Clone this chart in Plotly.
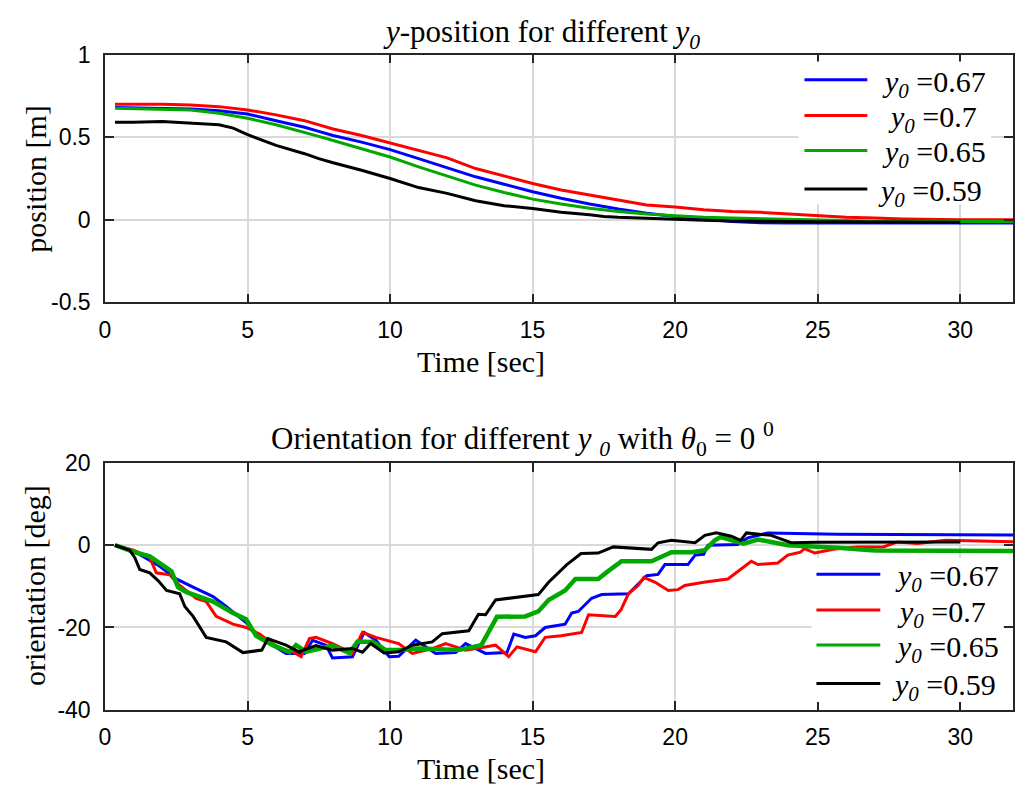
import plotly.graph_objects as go

# ---------------- data ----------------
series_names = ["0.67", "0.7", "0.65", "0.59"]
series_colors = ["#0000FF", "#FF0000", "#00A800", "#000000"]

# y-position [m]
pos_t_blue = [0.35, 2, 3, 4, 5, 6, 7, 7.5, 8, 9, 10, 11, 12, 13, 14, 15, 16, 17, 18, 19, 20, 21, 22, 23, 24, 32]
pos_blue = [0.68, 0.675, 0.67, 0.66, 0.64, 0.60, 0.56, 0.535, 0.51, 0.47, 0.425, 0.37, 0.315, 0.26, 0.215, 0.17,
            0.13, 0.095, 0.065, 0.04, 0.02, 0.005, -0.01, -0.018, -0.02, -0.02]
pos_t_red = [0.35, 2, 3, 4, 5, 6, 7, 7.5, 8, 9, 10, 11, 12, 13, 14, 15, 16, 17, 18, 19, 20, 21, 22, 23, 24, 25,
             26, 27, 28, 30, 32]
pos_red = [0.70, 0.70, 0.695, 0.685, 0.665, 0.635, 0.60, 0.575, 0.55, 0.51, 0.465, 0.42, 0.375, 0.31, 0.265, 0.22,
           0.18, 0.15, 0.12, 0.09, 0.077, 0.06, 0.05, 0.045, 0.035, 0.025, 0.015, 0.01, 0.005, 0.0, 0.0]
pos_t_green = [0.35, 2, 3, 4, 5, 6, 7, 7.5, 8, 9, 10, 11, 12, 13, 14, 15, 16, 17, 18, 19, 20, 21, 22, 23, 24, 25,
               26, 27, 32]
pos_green = [0.675, 0.67, 0.665, 0.645, 0.615, 0.575, 0.53, 0.505, 0.48, 0.43, 0.38, 0.32, 0.265, 0.21, 0.165,
             0.125, 0.095, 0.07, 0.05, 0.035, 0.025, 0.015, 0.01, 0.007, 0.005, 0.0, -0.005, -0.01, -0.01]
pos_t_black = [0.35, 1, 2, 3, 4, 4.5, 5, 6, 7, 7.5, 8, 9, 10, 11, 12, 13, 14, 15, 16, 17, 17.5, 18, 19, 20, 21,
               22, 23, 24, 25, 30]
pos_black = [0.59, 0.59, 0.595, 0.585, 0.575, 0.555, 0.515, 0.45, 0.40, 0.37, 0.345, 0.30, 0.25, 0.195, 0.16,
             0.115, 0.085, 0.068, 0.045, 0.03, 0.02, 0.015, 0.008, 0.005, -0.003, -0.008, -0.01, -0.01, -0.012,
             -0.015]

# orientation [deg]
ori_t_blue = [0.35, 1.0, 1.92, 2.5, 3.09, 3.79, 4.25, 4.95, 5.42, 6.35, 7.0, 7.28, 7.75, 7.98, 8.68, 9.09, 9.5,
              9.97, 10.3, 10.9, 11.6, 12.3, 12.65, 13.35, 14.1, 14.34, 14.74, 15.1, 15.44, 16.14, 16.37, 16.6,
              17.07, 17.42, 18.36, 18.6, 19.0, 19.4, 19.64, 20.45, 20.7, 21.0, 21.15, 22.2, 22.55, 23.25, 25.7, 32]
ori_blue = [0, -1.4, -5.1, -8.2, -10.2, -12.5, -14.9, -18.8, -22.4, -26.3, -26.3, -23.1, -24.3, -27.4, -27.1,
            -21.2, -23.1, -27.1, -27, -23.1, -26.3, -26.1, -23.9, -26.3, -26.1, -21.6, -22.4, -22, -20, -19.2,
            -16.5, -16.1, -12.9, -12, -11.8, -10.2, -7.4, -7.1, -4.7, -4.7, -2.4, -2.2, 0, 0.2, 1.8, 3.0, 2.7, 2.5]
ori_t_red = [0.35, 1.0, 1.57, 1.8, 2.27, 2.62, 3.2, 3.55, 3.9, 4.49, 4.95, 5.42, 6.12, 6.58, 6.88, 7.17, 7.4,
             7.98, 8.68, 9.03, 9.5, 10.3, 10.78, 11.5, 11.95, 12.65, 13.7, 14.16, 14.45, 15.1, 15.44, 16.0, 16.72,
             16.96, 17.9, 18.1, 18.36, 18.7, 18.9, 19.3, 19.76, 20.1, 20.34, 21.0, 21.85, 22.2, 22.67, 22.9, 23.6,
             23.95, 24.4, 24.53, 24.9, 25.6, 26.4, 27.3, 27.8, 28.5, 29.5, 32]
ori_red = [0, -1.2, -3, -6.7, -7.2, -9.8, -12.9, -13.7, -17.3, -19.2, -20, -21.6, -25.1, -25.9, -27.1, -22.7,
           -22.4, -23.9, -26.3, -21.2, -22.4, -23.9, -26.3, -25.1, -23.9, -25.5, -24.3, -27.1, -24.7, -25.9, -22.4,
           -22.0, -21.2, -16.9, -17.3, -15.7, -11.8, -9.8, -7.8, -9.0, -11, -10.8, -9.8, -9.0, -8.2, -6.3, -3.9,
           -4.7, -4.3, -2.4, -1.7, -0.8, -1.9, -0.9, -0.4, -0.4, 0.8, 0.4, 1.2, 0.8]
ori_t_green = [0.35, 1.0, 1.57, 1.98, 2.33, 2.56, 2.86, 3.79, 4.49, 4.95, 5.3, 5.89, 6.47, 6.7, 7.05, 7.98, 8.57,
               8.86, 9.4, 9.85, 10.3, 11.0, 11.5, 12.4, 13.2, 13.5, 13.75, 14.74, 15.2, 15.56, 16.14, 16.5, 17.3,
               17.65, 18.12, 19.17, 19.87, 20.57, 21.04, 21.39, 21.6, 22.4, 22.9, 23.37, 23.95, 25.7, 27, 32]
ori_green = [0, -1.6, -2.7, -4.7, -6.3, -10.2, -11.4, -13.7, -16.5, -18, -22, -24.3, -26, -24.3, -25.9, -24.4,
             -26.2, -23.4, -23.5, -25.5, -25.5, -25.1, -25.3, -25.5, -24.3, -20.4, -17.4, -17.3, -16.1, -13.3, -11,
             -8.2, -8.2, -6.3, -3.9, -3.9, -1.7, -1.7, -1.2, 1.2, 2.0, 0.4, 1.4, 0.8, 0, -0.6, -1.3, -1.4]
ori_t_black = [0.35, 0.87, 1.05, 1.22, 1.57, 1.86, 2.16, 2.62, 2.8, 3.09, 3.55, 4.25, 4.84, 5.5, 5.71, 6.35, 6.8,
               7.4, 7.98, 8.68, 9.03, 9.32, 9.79, 10.3, 10.78, 11.48, 11.83, 12.76, 13.1, 13.35, 13.7, 15.2, 15.56,
               16.2, 16.7, 17.3, 17.83, 19.17, 19.4, 19.87, 20.7, 21.04, 21.45, 21.97, 22.3, 22.5, 23.37, 23.8,
               24.07, 25, 30]
ori_black = [0, -1.2, -3.1, -5.9, -6.7, -8.6, -11, -11.8, -14.9, -17.3, -22.4, -23.5, -26.1, -25.5, -22.7, -24.3,
             -25.9, -24.4, -25.5, -25.1, -26.0, -23.9, -26.2, -25.9, -24.3, -23.5, -21.5, -20.8, -16.8, -16.9, -13.3,
             -12, -9.0, -4.7, -2.0, -1.9, -0.4, -1.0, 0.6, 1.2, 0.6, 2.4, 3.0, 2.2, 1.2, 3.0, 2.4, 1.2, 0.6, 0.7,
             0.8]

x_ticks = [0, 5, 10, 15, 20, 25, 30]
pos_ticks = [-0.5, 0, 0.5, 1]
pos_tick_text = ["-0.5", "0", "0.5", "1"]
ori_ticks = [-40, -20, 0, 20]
ori_tick_text = ["-40", "-20", "0", "20"]

# ---------------- layout helpers ----------------
W, H, L = 1015, 805, 105


def px(x):
    return (x - L) / (W - L)


def py(y):
    return 1 - y / H


SERIF = "Liberation Serif, Times New Roman, serif"
SANS = "Liberation Sans, Arial, sans-serif"
AXC = "#262626"
GRID = "#d9d9d9"

fig = go.Figure()

pos_sets = [(pos_t_blue, pos_blue), (pos_t_red, pos_red), (pos_t_green, pos_green), (pos_t_black, pos_black)]
ori_sets = [(ori_t_blue, ori_blue), (ori_t_red, ori_red), (ori_t_green, ori_green), (ori_t_black, ori_black)]
ori_widths = [3, 3, 4.5, 3]

for (t, v), c, n in zip(pos_sets, series_colors, series_names):
    fig.add_trace(go.Scatter(x=t, y=v, mode="lines", line=dict(color=c, width=3),
                             name="y0=" + n, showlegend=False, xaxis="x", yaxis="y"))
for (t, v), c, n, w in zip(ori_sets, series_colors, series_names, ori_widths):
    fig.add_trace(go.Scatter(x=t, y=v, mode="lines", line=dict(color=c, width=w),
                             name="y0=" + n, showlegend=False, xaxis="x2", yaxis="y2"))

xrange = [0, 31.85]
common_x = dict(range=xrange, tickvals=x_ticks, ticks="inside", ticklen=9, tickwidth=1.5, tickcolor=AXC,
                showline=True, linecolor=AXC, linewidth=1.5, mirror="ticks", showgrid=True, gridcolor=GRID,
                gridwidth=1.5, zeroline=False, tickfont=dict(family=SANS, size=23, color="#000"),
                ticklabelstandoff=6)
common_y = dict(ticks="inside", ticklen=9, tickwidth=1.5, tickcolor=AXC, showline=True, linecolor=AXC,
                linewidth=1.5, mirror="ticks", showgrid=True, gridcolor=GRID, gridwidth=1.5, zeroline=False,
                tickfont=dict(family=SANS, size=23, color="#000"), ticklabelstandoff=8)

fig.update_layout(
    width=W, height=H, margin=dict(l=L, r=0, t=0, b=0), paper_bgcolor="white", plot_bgcolor="white",
    xaxis=dict(domain=[0, 1], anchor="y", **common_x),
    yaxis=dict(domain=[py(299), py(43)], anchor="x", range=[-0.5, 1], tickvals=pos_ticks,
               ticktext=pos_tick_text, **common_y),
    xaxis2=dict(domain=[0, 1], anchor="y2", **common_x),
    yaxis2=dict(domain=[py(720), py(465)], anchor="x2", range=[-40, 20], tickvals=ori_ticks,
                ticktext=ori_tick_text, **common_y),
)

shapes = []
annotations = []


def ann(text, x, y, size=30, xanchor="center", yanchor="middle", angle=0):
    annotations.append(dict(text=text, x=px(x), y=py(y), xref="paper", yref="paper", showarrow=False,
                            xanchor=xanchor, yanchor=yanchor, textangle=angle,
                            font=dict(family=SERIF, size=size, color="#000")))


# titles and axis labels
ann("<i>y</i>-position for different <i>y</i><sub><i>0</i></sub>", 542, 22, size=31)
ann("Orientation for different <i>y</i> <sub><i>0</i></sub> with <i>θ</i><sub>0</sub> = 0 <sup>0</sup>", 523, 440,
    size=31)
ann("Time [sec]", 482, 360)
ann("Time [sec]", 482, 781)
ann("position [m]", 35, 171, angle=-90)
ann("orientation [deg]", 35, 592, angle=-90)

# custom legends (matching MATLAB legend boxes)
legend_specs = [
    dict(box=(800, 50, 993, 198), line_x=(806, 869), rows=[69, 106, 142, 182], text_x=[882, 888, 882, 878]),
    dict(box=(813, 563, 1005, 712), line_x=(818, 882), rows=[580, 617, 653, 693], text_x=[895, 897, 895, 892]),
]
for spec in legend_specs:
    x0, y0, x1, y1 = spec["box"]
    shapes.append(dict(type="rect", xref="paper", yref="paper", x0=px(x0), x1=px(x1), y0=py(y1), y1=py(y0),
                       fillcolor="white", line=dict(width=0), layer="above"))
    for ry, tx, c, n in zip(spec["rows"], spec["text_x"], series_colors, series_names):
        shapes.append(dict(type="line", xref="paper", yref="paper", x0=px(spec["line_x"][0]),
                           x1=px(spec["line_x"][1]), y0=py(ry), y1=py(ry), line=dict(color=c, width=3),
                           layer="above"))
        ann("<i>y</i><sub><i>0</i></sub> =" + n, tx, ry + 4, xanchor="left")

fig.update_layout(shapes=shapes, annotations=annotations)

fig.write_html("out.html")
